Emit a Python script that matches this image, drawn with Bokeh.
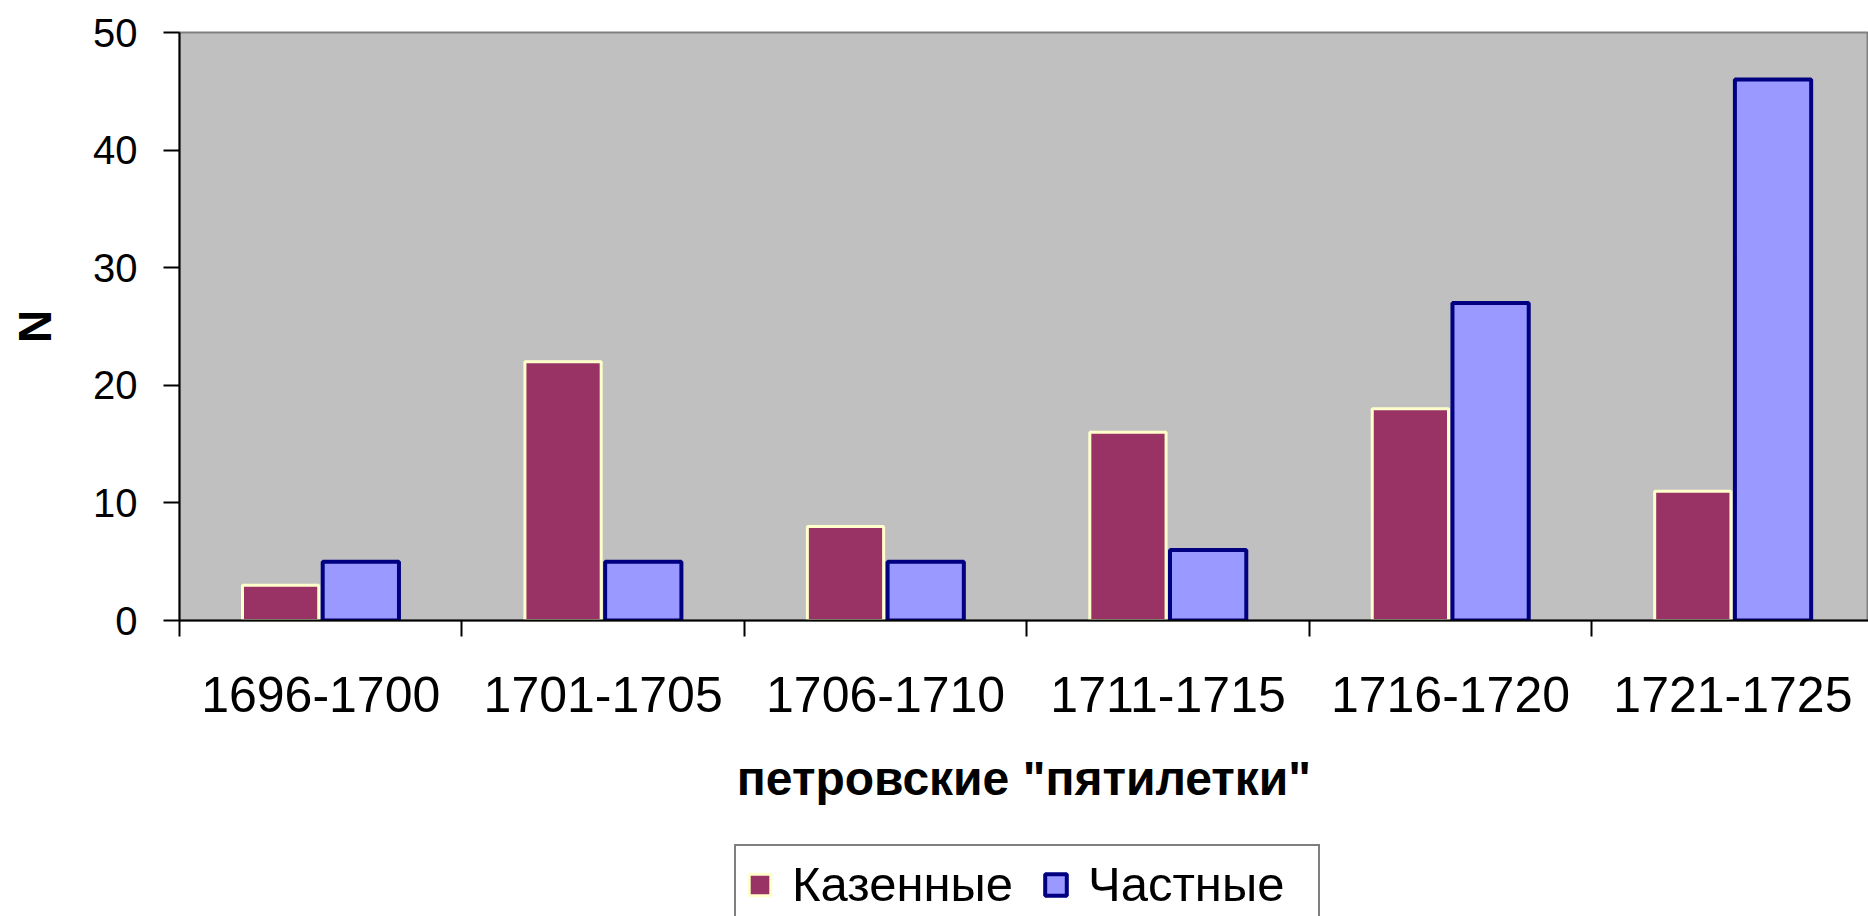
import numpy as np
from bokeh.plotting import figure
from bokeh.layouts import column
from bokeh.models import FixedTicker, Legend, LegendItem, Range1d
from bokeh.embed import file_html
from bokeh.resources import INLINE

periods = ["1696-1700", "1701-1705", "1706-1710", "1711-1715", "1716-1720", "1721-1725"]
kazennye = [3, 22, 8, 16, 18, 11]
chastnye = [5, 5, 5, 6, 27, 46]
y_ticks = [0, 10, 20, 30, 40, 50]
series_names = ["Казенные", "Частные"]
x_title = 'петровские "пятилетки"'
y_title = "N"

FONT = "Liberation Sans"
n = len(periods)
idx = np.arange(n)
centers = idx + 0.5
boundaries = list(range(n + 1))

KAZ_STYLE = dict(fill_color="#993366", line_color="#FFFFCC", line_width=3)
CH_STYLE = dict(fill_color="#9999FF", line_color="#000080", line_width=4)

x_end = n - 0.02  # last category runs to the right edge of the picture

p = figure(width=1868, height=832, output_backend="svg", toolbar_location=None,
           x_range=Range1d(0, x_end), y_range=Range1d(0, 50),
           min_border_left=179, min_border_right=0, min_border_top=32,
           min_border_bottom=212)

p.background_fill_color = "#C0C0C0"
p.border_fill_color = "white"
p.outline_line_color = "#808080"
p.outline_line_width = 2
p.xgrid.visible = False
p.ygrid.visible = False

bw = 0.27
off = 0.142
r_k = p.vbar(x=centers - off, top=kazennye, width=bw, bottom=0, **KAZ_STYLE)
r_c = p.vbar(x=centers + off, top=chastnye, width=bw, bottom=0, **CH_STYLE)

# x axis
xa = p.xaxis[0]
xa.ticker = FixedTicker(ticks=list(centers), minor_ticks=boundaries)
xa.major_label_overrides = {float(c): lab for c, lab in zip(centers, periods)}
xa.major_tick_out = 0
xa.major_tick_in = 0
xa.minor_tick_out = 16
xa.minor_tick_in = 0
xa.minor_tick_line_width = 2
xa.minor_tick_line_color = "black"
xa.axis_line_width = 2
xa.axis_line_color = "black"
xa.major_label_text_font = FONT
xa.major_label_text_font_size = "50px"
xa.major_label_text_color = "black"
xa.major_label_standoff = 40
xa.axis_label = x_title
xa.axis_label_text_font = FONT
xa.axis_label_text_font_style = "bold"
xa.axis_label_text_font_size = "48px"
xa.axis_label_text_color = "black"
xa.axis_label_standoff = 37

# y axis
ya = p.yaxis[0]
ya.ticker = FixedTicker(ticks=y_ticks)
ya.major_tick_out = 16
ya.major_tick_in = 0
ya.minor_tick_out = 0
ya.minor_tick_in = 0
ya.major_tick_line_width = 2
ya.major_tick_line_color = "black"
ya.axis_line_width = 2
ya.axis_line_color = "black"
ya.major_label_text_font = FONT
ya.major_label_text_font_size = "40px"
ya.major_label_text_color = "black"
ya.major_label_standoff = 26
ya.axis_label = y_title
ya.axis_label_text_font = FONT
ya.axis_label_text_font_style = "bold"
ya.axis_label_text_font_size = "46px"
ya.axis_label_text_color = "black"
ya.axis_label_standoff = 29

# legend strip (legend box runs off the bottom edge, as in the reference)
p2 = figure(width=1868, height=84, output_backend="svg", toolbar_location=None,
            x_range=Range1d(0, x_end), y_range=Range1d(0, 50),
            x_axis_location=None, y_axis_location=None,
            min_border=0)
p2.outline_line_color = None
p2.background_fill_color = "white"
p2.border_fill_color = "white"
p2.grid.visible = False
# same series, hidden renderers: they only supply the legend swatches
k_proxy = p2.vbar(x=centers - off, top=kazennye, width=bw, bottom=0, visible=False, **KAZ_STYLE)
c_proxy = p2.vbar(x=centers + off, top=chastnye, width=bw, bottom=0, visible=False, **CH_STYLE)

legend = Legend(items=[LegendItem(label=series_names[0], renderers=[k_proxy]),
                       LegendItem(label=series_names[1], renderers=[c_proxy])],
                orientation="horizontal", location=(555, -8), click_policy="none")
legend.label_text_font = FONT
legend.label_text_font_size = "49px"
legend.label_text_color = "black"
legend.glyph_width = 27
legend.glyph_height = 27
legend.label_standoff = 19
legend.label_width = 220
legend.spacing = 29
legend.padding = 10
legend.margin = 0
legend.border_line_color = "black"
legend.border_line_width = 2
legend.background_fill_color = "white"
legend.background_fill_alpha = 1.0
p2.add_layout(legend, "center")

layout = column(p, p2, spacing=0)
open("out.html", "w").write(file_html(layout, INLINE))
